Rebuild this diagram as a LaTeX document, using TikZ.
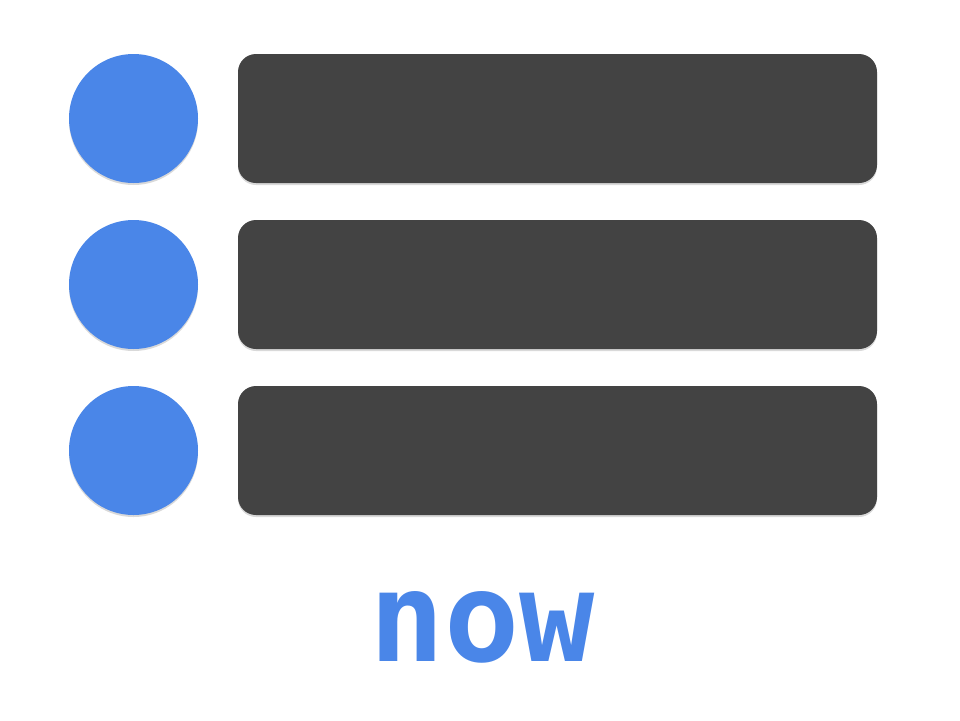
\documentclass[tikz,border=0pt]{standalone}
\usepackage{fontspec}
\usepackage{tikz}
\usetikzlibrary{shadows,positioning}
\newfontfamily\nowfont{DejaVu Sans Mono}
\definecolor{DotBlue}{RGB}{74, 134, 232}
\definecolor{BarGray}{RGB}{67, 67, 67}

\begin{document}
\begin{tikzpicture}[x=1pt, y=-1pt,
    soft/.style={drop shadow={opacity=0.3, shadow xshift=0pt, shadow yshift=-2pt}},
    dot/.style={circle, fill=DotBlue, inner sep=0pt, minimum size=129pt, soft},
    bar/.style={rectangle, rounded corners=18pt, fill=BarGray, inner sep=0pt,
        minimum width=639pt, minimum height=129pt, soft}]
    \useasboundingbox (0,0) rectangle (960,720);
    \foreach \i/\y in {1/118.5, 2/284.5, 3/450.5} {
        \node[dot] (dot\i) at (133.5,\y) {};
        \node[bar] (bar\i) at (557.5,\y) {};
    }
    \node[DotBlue, anchor=base, inner sep=0pt, font=\nowfont\bfseries\fontsize{125}{125}\selectfont]
        (label) at (482,661) {now};
\end{tikzpicture}
\end{document}
